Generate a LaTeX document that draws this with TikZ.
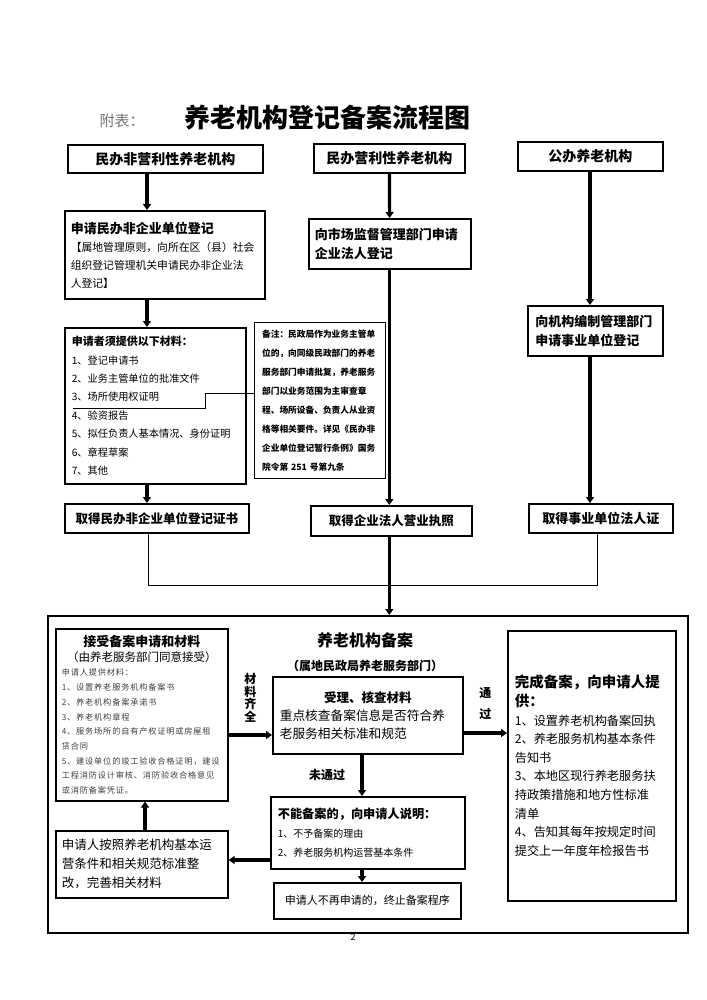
\documentclass[tikz,border=0pt]{standalone}
\usepackage{fontspec}
\setmainfont{Noto Sans CJK SC}
\usetikzlibrary{arrows.meta,positioning}
\newcommand{\fs}[2]{\fontsize{#1}{#2}\selectfont}

\begin{document}
\begin{tikzpicture}[x=1pt,y=-1pt,
    box/.style={draw, line width=1.6pt, anchor=north west, inner xsep=7pt, inner ysep=2pt, align=left},
    head/.style={font=\bfseries\fs{14}{17}, align=center},
    arr/.style={line width=3.2pt, -{Triangle[length=6pt,width=8pt]}},
    thin/.style={line width=0.8pt},
    lbl/.style={font=\bfseries\fs{12}{14}, align=center}]
\useasboundingbox (0,0) rectangle (706,1000);

\node[text=black!55, font=\fs{15}{17}] (fubiao) at (122,121) {附表：};
\node[font=\bfseries\fs{26}{30}] (title) at (327,118) {养老机构登记备案流程图};

\node[box, head, minimum width=195, minimum height=28] (a1) at (67,144) {民办非营利性养老机构};
\node[box, head, minimum width=151, minimum height=29] (b1) at (313,143) {民办营利性养老机构};
\node[box, head, minimum width=145, minimum height=29] (c1) at (517,141) {公办养老机构};

\node[box, text width=188, minimum width=200, minimum height=88, inner xsep=6pt, font=\fs{10.8}{18}] (a2) at (64,210)
  {{\bfseries\fs{13}{18}申请民办非企业单位登记}\\【属地管理原则，向所在区（县）社会\\组织登记管理机关申请民办非企业法\\人登记】};
\node[box, text width=150, minimum width=162, minimum height=50, inner xsep=6pt, font=\bfseries\fs{13}{19}] (b2) at (308,218)
  {向市场监督管理部门申请\\企业法人登记};
\node[box, text width=120, minimum width=135, minimum height=50, inner xsep=7.5pt, font=\bfseries\fs{13}{19}] (c2) at (527,305)
  {向机构编制管理部门\\申请事业单位登记};

\node[box, text width=167, minimum width=181, minimum height=156, font=\fs{10.2}{18.4}] (a3) at (64,327)
  {{\bfseries\fs{11}{18.4}申请者须提供以下材料：}\\1、登记申请书\\2、业务主管单位的批准文件\\3、场所使用权证明\\4、验资报告\\5、拟任负责人基本情况、身份证明\\6、章程草案\\7、其他};
\node[box, text width=116, minimum width=131, minimum height=156, inner xsep=7.5pt, line width=1.2pt, font=\bfseries\fs{8.7}{19}] (note) at (254,322)
  {备注：民政局作为业务主管单\\位的，向同级民政部门的养老\\服务部门申请批复，养老服务\\部门以业务范围为主审查章\\程、场所设备、负责人从业资\\格等相关要件。详见《民办非\\企业单位登记暂行条例》国务\\院令第 251 号第九条};

\node[box, head, font=\bfseries\fs{12.5}{15}, minimum width=184, minimum height=29] (a4) at (64,503) {取得民办非企业单位登记证书};
\node[box, head, font=\bfseries\fs{12.5}{15}, minimum width=161, minimum height=30] (b4) at (310,505) {取得企业法人营业执照};
\node[box, head, font=\bfseries\fs{13}{15}, minimum width=144, minimum height=29] (c4) at (528,503) {取得事业单位法人证};

\coordinate (colA) at (147,0);
\coordinate (colC) at (590,0);
\coordinate (join) at (0,585);

\draw[arr] (a1.south -| colA) -- (a2.north -| colA);
\draw[arr] (a2.south -| colA) -- (a3.north -| colA);
\draw[arr] (a3.south -| colA) -- (a4.north -| colA);
\draw[arr] (b1) -- (b2);
\draw[arr] (b2.south -| b1.south) -- (b4.north -| b1.south);
\draw[arr] (c1.south -| colC) -- (c2.north -| colC);
\draw[arr] (c2.south -| colC) -- (c4.north -| colC);
\draw[thin] (73,408) -- (205,408) -- (205,393) -- (note.west |- 0,393);
\draw[thin] ([xshift=-8]a4.south) -- ([xshift=-8]a4.south |- join) -- ([xshift=-3]c4.south |- join) -- ([xshift=-3]c4.south);

\node[draw, line width=2.4pt, anchor=north west, minimum width=640, minimum height=317] (big) at (47,615) {};
\draw[arr] (b4.south -| b1.south) -- (big.north -| b1.south);

\node[font=\bfseries\fs{16}{18}] (bt) at (365,640) {养老机构备案};
\node[font=\bfseries\fs{12}{14}] (bsub) at (365,666) {（属地民政局养老服务部门）};

\node[box, text width=160, minimum width=172, minimum height=172, inner xsep=6pt, font=\fs{8.2}{14.7}] (l1) at (55,628)
  {\centering{\bfseries\fs{13}{18}接受备案申请和材料}\\{\fs{11.5}{16}（由养老服务部门同意接受）}\par
   \raggedright\color{black!75}\addfontfeature{LetterSpace=10}申请人提供材料：\\1、设置养老服务机构备案书\\2、养老机构备案承诺书\\3、养老机构章程\\4、服务场所的自有产权证明或房屋租\\赁合同\\5、建设单位的竣工验收合格证明，建设\\工程消防设计审核、消防验收合格意见\\或消防备案凭证。};

\node[box, text width=176, minimum width=190, minimum height=77, font=\fs{12.7}{18}] (m1) at (272,676)
  {\centerline{\bfseries\fs{12.5}{18}受理、核查材料}\\重点核查备案信息是否符合养\\老服务相关标准和规范};

\node[box, text width=154, minimum width=168, minimum height=270, font=\fs{12.2}{18.6}] (r1) at (507,630)
  {{\bfseries\fs{14.5}{18.6}完成备案，向申请人提\\供：}\\1、设置养老机构备案回执\\2、养老服务机构基本条件\\告知书\\3、本地区现行养老服务扶\\持政策措施和地方性标准\\清单\\4、告知其每年按规定时间\\提交上一年度年检报告书};

\node[box, text width=180, minimum width=194, minimum height=72, font=\fs{10}{19}] (m2) at (270,796)
  {{\bfseries\fs{12.2}{19}不能备案的，向申请人说明：}\\1、不予备案的理由\\2、养老服务机构运营基本条件};

\node[box, text width=160, minimum width=172, minimum height=67, inner xsep=6pt, font=\fs{12.5}{19}] (l2) at (55,830)
  {申请人按照养老机构基本运\\营条件和相关规范标准整\\改，完善相关材料};

\node[box, align=center, text width=175, minimum width=187, minimum height=36, inner xsep=6pt, font=\fs{11}{14}] (m3) at (273,882)
  {申请人不再申请的，终止备案程序};

\coordinate (rowA) at (0,735);
\coordinate (rowB) at (0,733);
\coordinate (colM) at (362,0);
\coordinate (colL) at (145,0);

\draw[arr] (l1.east |- rowA) -- (m1.west |- rowA) node[lbl, midway, above=8pt, font=\bfseries\fs{12}{12.5}] (qq) {材\\料\\齐\\全};
\draw[arr] (m1.east |- rowB) -- (r1.west |- rowB) node[lbl, midway, above=8pt, font=\bfseries\fs{12}{21}] (tg) {通\\过};
\draw[arr] (m1.south -| colM) -- (m2.north -| colM) node[lbl, midway, left=12pt] (wtg) {未通过};
\draw[arr] (m2.west |- 0,860) -- (l2.east |- 0,860);
\draw[arr] (l2.north -| colL) -- (l1.south -| colL);
\draw[arr] (m2.south -| colM) -- (m3.north -| colM);

\node[font=\fs{9}{10}] (page) at (353,937) {2};
\end{tikzpicture}
\end{document}
